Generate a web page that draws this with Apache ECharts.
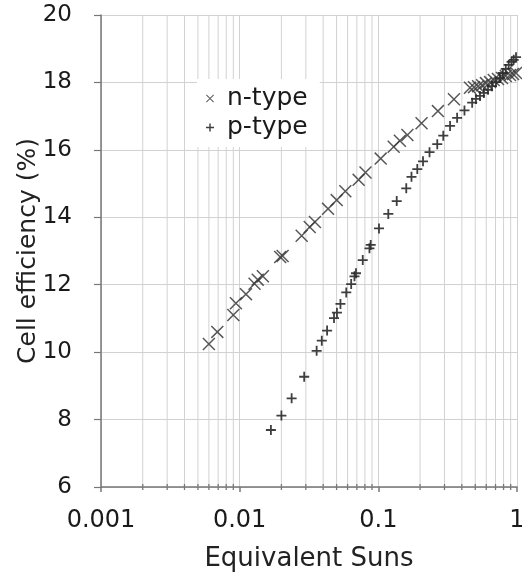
<!DOCTYPE html>
<html>
<head>
<meta charset="utf-8">
<script src="https://cdn.jsdelivr.net/npm/echarts@6/dist/echarts.min.js"></script>
<style>
html,body{margin:0;padding:0;background:#fff;}
#c{width:522px;height:575px;}
</style>
</head>
<body>
<div id="c"></div>
<script>
// ---- data ----
var nX = [0.0060, 0.0069, 0.0090, 0.0094, 0.0111, 0.0128, 0.0135, 0.0147, 0.0196, 0.0204, 0.028, 0.032, 0.0349, 0.0434, 0.0501, 0.0578, 0.0721, 0.0808, 0.104, 0.129, 0.143, 0.162, 0.205, 0.269, 0.351, 0.458, 0.49, 0.524, 0.56, 0.597, 0.64, 0.68, 0.729, 0.78, 0.83, 0.89, 0.936, 0.984];
var nY = [10.24, 10.60, 11.10, 11.45, 11.72, 12.03, 12.15, 12.25, 12.82, 12.85, 13.45, 13.71, 13.86, 14.25, 14.51, 14.77, 15.11, 15.33, 15.74, 16.09, 16.27, 16.44, 16.79, 17.15, 17.50, 17.84, 17.86, 17.89, 17.92, 17.98, 18.01, 18.07, 18.10, 18.13, 18.19, 18.22, 18.25, 18.28];
var pX = [0.0168, 0.0200, 0.0237, 0.0292, 0.0359, 0.0391, 0.0427, 0.0479, 0.0503, 0.0533, 0.0587, 0.0637, 0.0673, 0.069, 0.0772, 0.0863, 0.0881, 0.1011, 0.118, 0.1357, 0.159, 0.1734, 0.191, 0.210, 0.234, 0.266, 0.294, 0.329, 0.370, 0.418, 0.475, 0.506, 0.541, 0.577, 0.618, 0.660, 0.705, 0.754, 0.791, 0.830, 0.871, 0.914, 0.947, 0.984];
var pY = [7.69, 8.12, 8.63, 9.27, 10.04, 10.34, 10.64, 11.01, 11.17, 11.43, 11.77, 12.02, 12.25, 12.34, 12.73, 13.08, 13.18, 13.67, 14.10, 14.48, 14.86, 15.20, 15.43, 15.66, 15.93, 16.17, 16.42, 16.71, 16.95, 17.17, 17.40, 17.51, 17.60, 17.69, 17.78, 17.89, 18.01, 18.13, 18.28, 18.40, 18.52, 18.61, 18.67, 18.75];
var seriesNames = ['n-type', 'p-type'];
var xTickLabels = ['0.001', '0.01', '0.1', '1'];
var minorX = [0.002,0.003,0.004,0.005,0.006,0.007,0.008,0.009,
              0.02,0.03,0.04,0.05,0.06,0.07,0.08,0.09,
              0.2,0.3,0.4,0.5,0.6,0.7,0.8,0.9];
var yMin = 6, yMax = 20, yStep = 2;

// ---- build ----
function zip(a, b){ return a.map(function(v,i){ return [v, b[i]]; }); }
var crossSym = 'path://M0,0.8L0.8,0L10,9.2L9.2,10Z M9.2,0L10,0.8L0.8,10L0,9.2Z';
var plusSym = 'path://M0,4.1L10,4.1L10,5.9L0,5.9Z M4.1,0L5.9,0L5.9,10L4.1,10Z';
var FONT = '"DejaVu Sans", Verdana, sans-serif';
var GRIDC = '#d2d2d2';

var chart = echarts.init(document.getElementById('c'), null, {renderer:'canvas'});
chart.setOption({
  animation: false,
  backgroundColor: '#fff',
  grid: {left: 101, right: 5, top: 15, bottom: 88, containLabel: false, outerBoundsMode: 'none'},
  legend: {
    data: seriesNames,
    orient: 'vertical',
    left: 197, top: 79,
    backgroundColor: '#fff',
    padding: [7, 12, 7, 9],
    itemWidth: 8, itemHeight: 8,
    itemGap: 4,
    textStyle: {fontFamily: FONT, fontSize: 25, color: '#1a1a1a', padding: [0,0,0,8]}
  },
  xAxis: {
    type: 'log', logBase: 10, min: 0.001, max: 1,
    name: 'Equivalent Suns', nameLocation: 'middle', nameGap: 59, nameMoveOverlap: false,
    nameTextStyle: {fontFamily: FONT, fontSize: 26, color: '#222'},
    axisLine: {lineStyle: {color: '#777', width: 1.5}},
    axisTick: {show: true, inside: false, length: 5, lineStyle: {color: '#777', width: 1.5}},
    axisLabel: {
      fontFamily: FONT, fontSize: 24, color: '#1a1a1a', margin: 22,
      formatter: function(v){
        var i = Math.round(Math.log10(v) + 3);
        return xTickLabels[i] || '';
      }
    },
    splitLine: {show: true, lineStyle: {color: GRIDC, width: 1}}
  },
  yAxis: {
    type: 'value', min: yMin, max: yMax, interval: yStep,
    name: 'Cell efficiency (%)', nameLocation: 'middle', nameGap: 60, nameMoveOverlap: false,
    nameTextStyle: {fontFamily: FONT, fontSize: 25, color: '#222'},
    axisLine: {show: true, lineStyle: {color: '#777', width: 1.5}},
    axisTick: {show: true, inside: false, length: 7, lineStyle: {color: '#777', width: 1.2}},
    axisLabel: {fontFamily: FONT, fontSize: 23, color: '#1a1a1a', margin: 29},
    splitLine: {show: true, lineStyle: {color: GRIDC, width: 1}}
  },
  series: [
    {
      name: 'grid-minor', type: 'custom', silent: true, z: 1,
      data: minorX.map(function(v){ return [v, yMin]; }),
      renderItem: function(params, api){
        var top = api.coord([api.value(0), yMax]);
        var bot = api.coord([api.value(0), yMin]);
        return {type: 'group', children: [
          {type: 'line', shape: {x1: top[0], y1: top[1], x2: bot[0], y2: bot[1]},
           style: {stroke: GRIDC, lineWidth: 1}},
          {type: 'line', shape: {x1: bot[0], y1: bot[1] - 3, x2: bot[0], y2: bot[1] + 3},
           style: {stroke: '#777', lineWidth: 1.3}}
        ]};
      }
    },
    {
      name: 'n-type', type: 'scatter', z: 3,
      symbol: crossSym, symbolSize: 13,
      itemStyle: {color: '#3a3a3a', opacity: 0.85},
      data: zip(nX, nY)
    },
    {
      name: 'p-type', type: 'scatter', z: 3,
      symbol: plusSym, symbolSize: 10,
      itemStyle: {color: '#2a2a2a', opacity: 0.9},
      data: zip(pX, pY)
    }
  ]
});
</script>
</body>
</html>
